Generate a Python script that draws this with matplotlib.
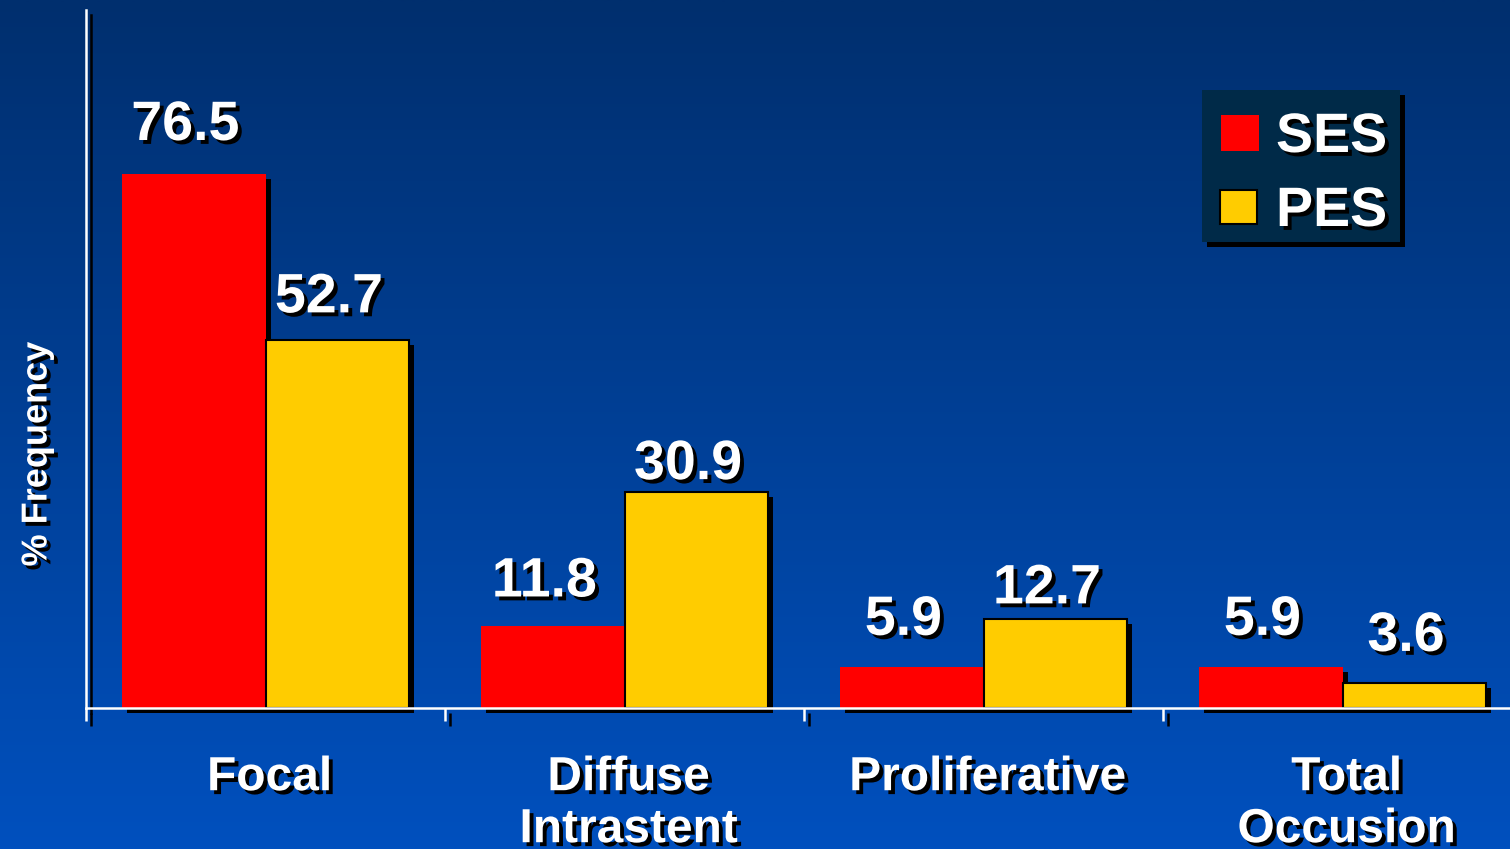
import numpy as np
import matplotlib
matplotlib.use("Agg")
import matplotlib.pyplot as plt
import matplotlib.patheffects as pe
from matplotlib.patches import Rectangle

categories = ["Focal", "Diffuse\nIntrastent", "Proliferative", "Total\nOccusion"]
series_names = ["SES", "PES"]
ses_values = [76.5, 11.8, 5.9, 5.9]
pes_values = [52.7, 30.9, 12.7, 3.6]

# vertical gap (points) between each bar top and its value label
ses_label_lift = [24.5, 21.0, 23.0, 23.0]
pes_label_lift = [20.0, 9.5, 11.5, 23.0]

RED = "#FF0000"
YELLOW = "#FFCC00"
FONT = "Liberation Sans"

plt.rcParams["font.family"] = [FONT, "DejaVu Sans"]
plt.rcParams["font.weight"] = "bold"

W, H = 1510, 849
fig = plt.figure(figsize=(W / 100, H / 100), dpi=100)


def fx(px):
    return px / W


def fy(py):
    return 1 - py / H


# vertical blue gradient background
bg = fig.add_axes([0, 0, 1, 1], zorder=-10)
top = np.array([0, 47, 110]) / 255
bot = np.array([0, 80, 190]) / 255
t = np.linspace(0, 1, 256)[:, None]
grad = top[None, None, :] * (1 - t[..., None]) + bot[None, None, :] * t[..., None]
grad = np.repeat(grad, 2, axis=1)
bg.imshow(grad, aspect="auto", extent=[0, 1, 0, 1], interpolation="bilinear")
bg.set_axis_off()

ax = fig.add_axes([fx(86), 141 / H, 1436 / W, 698 / H])
ax.set_facecolor("none")

text_shadow = [pe.SimplePatchShadow(offset=(2.8, -2.8), shadow_rgbFace="black", alpha=1.0), pe.Normal()]
bar_shadow = [pe.SimplePatchShadow(offset=(3.6, -3.6), shadow_rgbFace="black", alpha=1.0), pe.Normal()]
line_shadow = [pe.SimpleLineShadow(offset=(3.6, -3.6), shadow_color="black", alpha=1.0), pe.Normal()]

x = np.arange(len(categories))
bw = 0.4
ses_bars = ax.bar(x - bw / 2, ses_values, bw, color=RED, edgecolor="none", label=series_names[0], zorder=3)
pes_bars = ax.bar(x + bw / 2, pes_values, bw, color=YELLOW, edgecolor="black", linewidth=1.5,
                  label=series_names[1], zorder=4)
for b in list(ses_bars) + list(pes_bars):
    b.set_clip_on(False)
    b.set_path_effects(bar_shadow)

ax.set_xlim(-0.5, len(categories) - 0.5)
ax.set_ylim(0, 100)

# value labels
for bars, vals, lifts in ((ses_bars, ses_values, ses_label_lift), (pes_bars, pes_values, pes_label_lift)):
    for b, v, lift in zip(bars, vals, lifts):
        ax.annotate(f"{v:g}", xy=(b.get_x() + b.get_width() / 2, v), xytext=(-6, lift),
                    textcoords="offset points", ha="center", va="baseline",
                    fontsize=40, color="white", fontweight="bold",
                    path_effects=text_shadow, annotation_clip=False, zorder=6)

# category labels under the axis
for i, c in enumerate(categories):
    ax.annotate(c, xy=(i, 0), xycoords=("data", "axes fraction"), xytext=(3, -34),
                textcoords="offset points", ha="center", va="top", fontsize=34.5,
                color="white", fontweight="bold", linespacing=1.2,
                path_effects=text_shadow, annotation_clip=False)

# spines and ticks
for s in ("top", "right"):
    ax.spines[s].set_visible(False)
for s in ("left", "bottom"):
    ax.spines[s].set_color("white")
    ax.spines[s].set_linewidth(1.8)
ax.spines["left"].set_path_effects(line_shadow)
ax.spines["left"].set_zorder(5)
ax.spines["bottom"].set_zorder(5)
ax.set_yticks([])
ax.set_xticks(np.arange(len(categories) + 1) - 0.5)
ax.set_xticklabels([])
ax.tick_params(axis="x", direction="out", length=9, width=1.8, color="white")
for tk in ax.xaxis.get_major_ticks():
    tk.tick1line.set_path_effects(line_shadow)

# y-axis title
fig.text(fx(37), fy(454), "% Frequency", rotation=90, ha="center", va="center",
         fontsize=26, color="white", fontweight="bold", path_effects=text_shadow)

# legend box with drop shadow
box = Rectangle((fx(1202), fy(242)), fx(1400) - fx(1202), fy(90) - fy(242),
                transform=fig.transFigure, facecolor="#002a48", edgecolor="none", zorder=7)
box.set_path_effects(bar_shadow)
fig.patches.append(box)
legend_rows = [
    (series_names[0], RED, "none", 0, (1221, 115, 1259, 151), 152),
    (series_names[1], YELLOW, "black", 1.5, (1220, 190, 1257, 224), 226),
]
for name, fc, ec, lw, (x0, y0, x1, y1), base in legend_rows:
    sw = Rectangle((fx(x0), fy(y1)), fx(x1) - fx(x0), fy(y0) - fy(y1), transform=fig.transFigure,
                   facecolor=fc, edgecolor=ec, linewidth=lw, zorder=8)
    fig.patches.append(sw)
    fig.text(fx(1276), fy(base), name, ha="left", va="baseline", fontsize=40,
             color="white", fontweight="bold", path_effects=text_shadow, zorder=9)

fig.savefig("out.png", dpi=100)
